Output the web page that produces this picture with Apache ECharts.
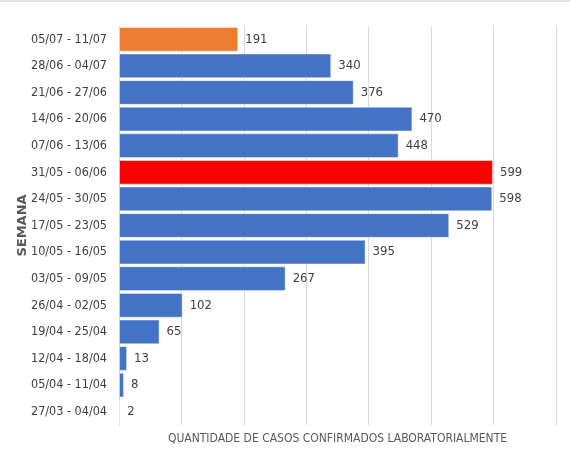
<!DOCTYPE html>
<html>
<head>
<meta charset="utf-8">
<script src="https://cdn.jsdelivr.net/npm/echarts@6/dist/echarts.min.js"></script>
<style>
    html, body { margin: 0; padding: 0; background: #fff; }
    #chart { width: 570px; height: 469px; border-top: 2px solid #e2e2e2; }
</style>
</head>
<body>
<div id="chart"></div>
<script>
// semanas, de baixo para cima (ordem do eixo de categorias)
const weeks = [
    '27/03 - 04/04', '05/04 - 11/04', '12/04 - 18/04', '19/04 - 25/04',
    '26/04 - 02/05', '03/05 - 09/05', '10/05 - 16/05', '17/05 - 23/05',
    '24/05 - 30/05', '31/05 - 06/06', '07/06 - 13/06', '14/06 - 20/06',
    '21/06 - 27/06', '28/06 - 04/07', '05/07 - 11/07'
];
const cases = [2, 8, 13, 65, 102, 267, 395, 529, 598, 599, 448, 470, 376, 340, 191];

const barBlue = '#4472C4';
const peakWeek = '31/05 - 06/06';   // semana com mais casos
const currentWeek = '05/07 - 11/07'; // semana em curso
const fontFamily = "'Liberation Sans Narrow', 'DejaVu Sans Condensed', sans-serif";

const barColor = (week) => {
    if (week === peakWeek) return '#FF0000';
    if (week === currentWeek) return '#ED7D31';
    return barBlue;
};

const chart = echarts.init(document.getElementById('chart'));
chart.setOption({
    animation: false,
    grid: { left: 119, right: 14, top: 24, bottom: 46, outerBoundsMode: 'none' },
    xAxis: {
        type: 'value',
        min: 0,
        max: 700,
        interval: 100,
        name: 'QUANTIDADE DE CASOS CONFIRMADOS LABORATORIALMENTE',
        nameLocation: 'middle',
        nameGap: 8,
        nameTextStyle: { color: '#595959', fontSize: 12, fontFamily },
        axisLabel: { show: false },
        axisLine: { show: false },
        axisTick: { show: false },
        splitLine: { lineStyle: { color: '#d9d9d9', width: 1 } }
    },
    yAxis: {
        type: 'category',
        data: weeks,
        name: 'SEMANA',
        nameLocation: 'middle',
        nameGap: 90,
        nameMoveOverlap: false,
        nameRotate: 90,
        nameTextStyle: { color: '#595959', fontSize: 13, fontWeight: 'bold', fontFamily: "'DejaVu Sans', sans-serif" },
        axisLabel: { color: '#404040', fontSize: 12.5, margin: 12, fontFamily },
        axisLine: { lineStyle: { color: '#d9d9d9' } },
        axisTick: { show: false }
    },
    series: [{
        type: 'bar',
        barCategoryGap: '7%',
        data: cases.map((v, i) => ({ value: v, itemStyle: { color: barColor(weeks[i]) } })),
        itemStyle: { borderColor: 'rgba(255,255,255,0.45)', borderWidth: 1 },
        label: {
            show: true,
            position: 'right',
            distance: 7,
            color: '#404040',
            fontSize: 13,
            fontFamily
        }
    }]
});
</script>
</body>
</html>
